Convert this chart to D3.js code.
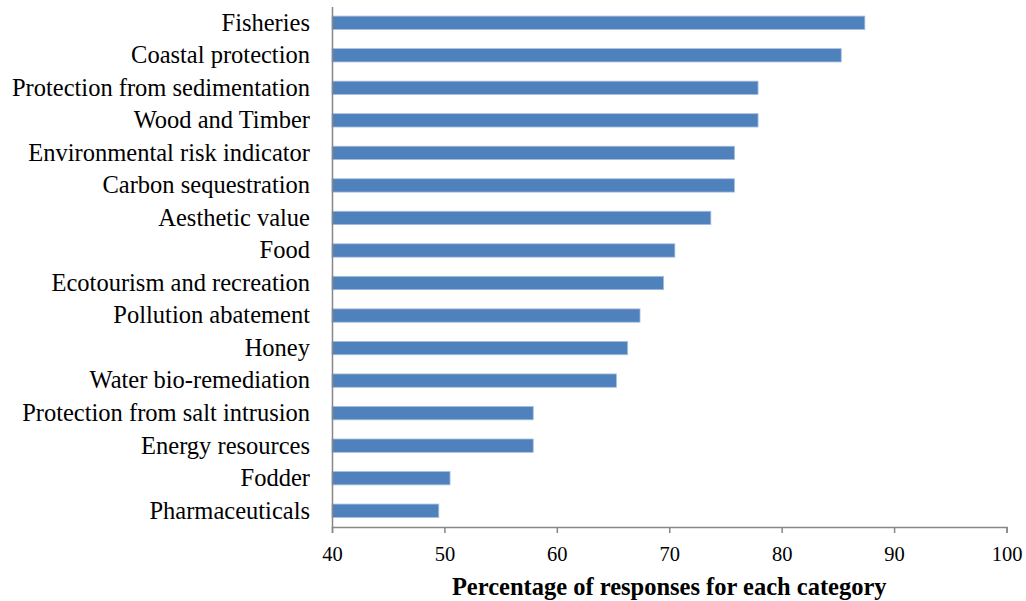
<!DOCTYPE html>
<html>
<head>
<meta charset="utf-8">
<script src="https://cdn.jsdelivr.net/npm/d3@7"></script>
<style>
  body { margin: 0; background: #fff; }
  svg { display: block; }
  text { font-family: "Liberation Serif", "Times New Roman", serif; fill: #000; }
</style>
</head>
<body>
<svg id="chart" width="1026" height="601"></svg>
<script>
// Chart data
const categories = [
  'Fisheries', 'Coastal protection', 'Protection from sedimentation', 'Wood and Timber',
  'Environmental risk indicator', 'Carbon sequestration', 'Aesthetic value', 'Food',
  'Ecotourism and recreation', 'Pollution abatement', 'Honey', 'Water bio-remediation',
  'Protection from salt intrusion', 'Energy resources', 'Fodder', 'Pharmaceuticals'
]
const values = [87.4, 85.3, 77.9, 77.9, 75.8, 75.8, 73.7, 70.5, 69.5, 67.4, 66.3, 65.3, 57.9, 57.9, 50.5, 49.5]
const xTicks = [40, 50, 60, 70, 80, 90, 100]
const xTitle = 'Percentage of responses for each category'

const serif = '"Liberation Serif", "Times New Roman", serif'
const margin = { top: 6.5, right: 19.5, bottom: 74, left: 332 }
const width = 1026 - margin.left - margin.right
const height = 601 - margin.top - margin.bottom

const svg = d3.select('#chart')
const g = svg.append('g')
  .attr('transform', 'translate(' + margin.left + ',' + margin.top + ')')

const x = d3.scaleLinear().domain([40, 100]).range([0, width])
const y = d3.scaleBand().domain(categories).range([0, height]).paddingInner(0.59).paddingOuter(0.295)

// Bars
g.selectAll('rect.bar')
    .data(categories)
  .enter()
  .append('rect')
    .attr('class', 'bar')
    .attr('x', x(40))
    .attr('y', d => y(d))
    .attr('width', (d, i) => x(values[i]) - x(40))
    .attr('height', y.bandwidth())
    .attr('fill', '#4f81bd')
    .attr('stroke', '#a9bfdd')
    .attr('stroke-width', 0.8)

// X axis
const xAxis = g.append('g')
  .attr('transform', 'translate(0,' + height + ')')
  .call(d3.axisBottom(x).tickValues(xTicks).tickSize(6).tickPadding(13))
xAxis.attr('font-family', null)
xAxis.select('.domain').attr('stroke', '#878787').attr('stroke-width', 1.5)
xAxis.selectAll('.tick line').attr('stroke', '#878787').attr('stroke-width', 1.5)
xAxis.selectAll('.tick text')
  .style('font-family', serif)
  .attr('font-size', 20.5)
  .attr('fill', '#000')

// Y axis (line only, category labels)
const yAxis = g.append('g')
  .call(d3.axisLeft(y).tickSize(0).tickPadding(22))
yAxis.attr('font-family', null)
yAxis.select('.domain').attr('stroke', '#878787').attr('stroke-width', 1.5)
yAxis.selectAll('.tick text')
  .style('font-family', serif)
  .attr('font-size', 24.5)
  .attr('fill', '#000')

// Axis title
svg.append('text')
  .attr('x', margin.left + width / 2)
  .attr('y', 595)
  .attr('text-anchor', 'middle')
  .style('font-family', serif)
  .attr('font-size', 24.5)
  .attr('font-weight', 'bold')
  .text(xTitle)
</script>
</body>
</html>
